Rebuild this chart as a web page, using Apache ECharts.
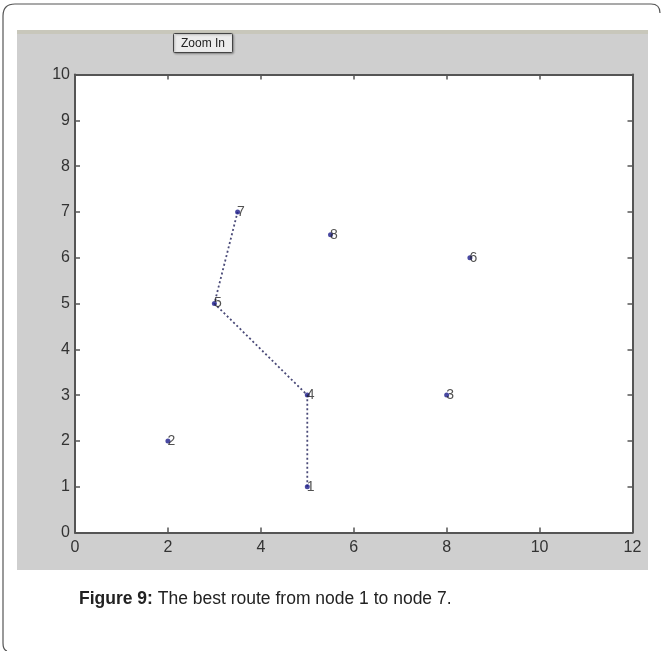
<!DOCTYPE html>
<html>
<head>
<meta charset="utf-8">
<script src="https://cdn.jsdelivr.net/npm/echarts@6/dist/echarts.min.js"></script>
<style>
html,body{margin:0;padding:0;background:#fff;}
#chart{width:663px;height:651px;}
</style>
</head>
<body>
<div id="chart"></div>
<script>
// Node data
const nodeNames = ['1', '2', '3', '4', '5', '6', '7', '8'];
const nodeX = [5, 2, 8, 5, 3, 8.5, 3.5, 5.5];
const nodeY = [1, 2, 3, 3, 5, 6, 7, 6.5];
// Best route (node names, in order)
const routeNodes = ['1', '4', '5', '7'];
// Axis ranges / ticks
const xRange = [0, 12], xStep = 2;
const yRange = [0, 10], yStep = 1;
const captionBold = 'Figure 9:';
const captionText = ' The best route from node 1 to node 7.';
const buttonText = 'Zoom In';

const nodeData = nodeNames.map((n, i) => ({ name: n, value: [nodeX[i], nodeY[i]] }));
const routeData = routeNodes.map(n => { const i = nodeNames.indexOf(n); return [nodeX[i], nodeY[i]]; });

const tickFont = "'Liberation Sans Narrow','Liberation Sans',Arial,sans-serif";
const axisCol = '#555555';

const chart = echarts.init(document.getElementById('chart'), null, { renderer: 'canvas' });
const baseX = {
  type: 'value', min: xRange[0], max: xRange[1], interval: xStep, z: 5,
  axisLine: { show: true, onZero: false, lineStyle: { color: axisCol, width: 2 } },
  axisTick: { show: true, inside: true, length: 5, lineStyle: { color: axisCol, width: 1.5 } },
  splitLine: { show: false }
};
const baseY = {
  type: 'value', min: yRange[0], max: yRange[1], interval: yStep, z: 5,
  axisLine: { show: true, onZero: false, lineStyle: { color: axisCol, width: 2 } },
  axisTick: { show: true, inside: true, length: 5, lineStyle: { color: axisCol, width: 1.5 } },
  splitLine: { show: false }
};
const borderStyle = { fill: 'none', stroke: '#555', lineWidth: 1.2 };
chart.setOption({
  animation: false,
  backgroundColor: '#ffffff',
  grid: { left: 75, right: 30.5, top: 74.5, bottom: 118.5, show: true, backgroundColor: '#ffffff', borderWidth: 0 },
  xAxis: [
    Object.assign({}, baseX, { position: 'bottom', axisLabel: { show: true, margin: 7, color: '#333', fontSize: 16, fontFamily: tickFont } }),
    Object.assign({}, baseX, { position: 'top', axisLabel: { show: false } })
  ],
  yAxis: [
    Object.assign({}, baseY, { position: 'left', axisLabel: { show: true, margin: 5, color: '#333', fontSize: 16, fontFamily: tickFont } }),
    Object.assign({}, baseY, { position: 'right', axisLabel: { show: false } })
  ],
  series: [
    {
      type: 'line', data: routeData, symbol: 'none', z: 3,
      lineStyle: { color: '#4a4a78', width: 1.8, type: [2, 2.5] }
    },
    {
      type: 'scatter', data: nodeData, symbolSize: 5, z: 4,
      itemStyle: { color: '#1c1c8a' },
      label: {
        show: true, position: 'right', distance: -3,
        formatter: p => p.name, color: '#262626', fontSize: 14,
        fontFamily: "'Liberation Sans',Arial,sans-serif"
      }
    }
  ],
  graphic: [
    { type: 'rect', z: -10, silent: true, shape: { x: 17, y: 30, width: 631, height: 540 }, style: { fill: '#cfcfcf' } },
    { type: 'rect', z: -9, silent: true, shape: { x: 17, y: 30, width: 631, height: 4 }, style: { fill: '#c8c7bb' } },
    { type: 'polyline', z: 10, silent: true, shape: { points: [[651, 4], [15, 4]] }, style: borderStyle },
    { type: 'polyline', z: 10, silent: true, shape: { points: [[3, 16], [3, 643]] }, style: borderStyle },
    { type: 'bezierCurve', z: 10, silent: true, shape: { x1: 651, y1: 4, x2: 660, y2: 13, cpx1: 660, cpy1: 4 }, style: borderStyle },
    { type: 'bezierCurve', z: 10, silent: true, shape: { x1: 15, y1: 4, x2: 3, y2: 16, cpx1: 3, cpy1: 4 }, style: borderStyle },
    { type: 'bezierCurve', z: 10, silent: true, shape: { x1: 3, y1: 643, x2: 7, y2: 651, cpx1: 3, cpy1: 650 }, style: borderStyle },
    { type: 'rect', z: 10, silent: true, shape: { x: 173.5, y: 33.5, width: 59, height: 19, r: 1 },
      style: { fill: '#ececec', stroke: '#444', lineWidth: 1, shadowBlur: 2, shadowColor: 'rgba(0,0,0,0.3)', shadowOffsetX: 1, shadowOffsetY: 1 } },
    { type: 'text', z: 11, silent: true, style: { x: 203, y: 43.5, text: buttonText, align: 'center', verticalAlign: 'middle',
      font: "12px 'Liberation Sans Narrow','Liberation Sans',Arial,sans-serif", fill: '#222' } },
    { type: 'text', z: 11, silent: true, style: {
      x: 79, y: 599, verticalAlign: 'middle',
      text: '{b|' + captionBold + '}{r|' + captionText + '}',
      rich: {
        b: { fontWeight: 'bold', fontSize: 17.5, fontFamily: "'Liberation Sans',Arial,sans-serif", fill: '#222' },
        r: { fontSize: 17.5, fontFamily: "'Liberation Sans',Arial,sans-serif", fill: '#222' }
      } } }
  ]
});
</script>
</body>
</html>
